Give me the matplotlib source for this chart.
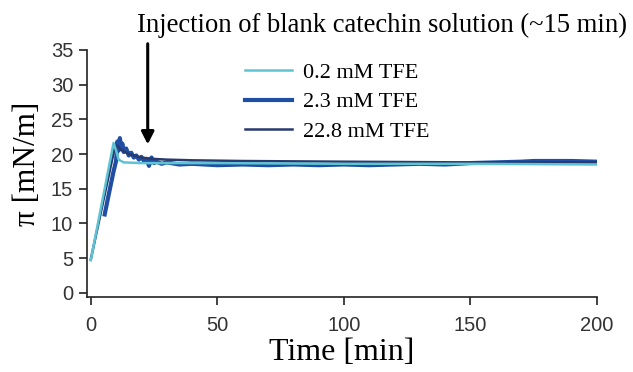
import matplotlib.pyplot as plt

# Data
t_02 = [0, 9, 10, 11, 13, 20, 50, 100, 150, 200]
pi_02 = [4.7, 21.6, 20.5, 19.2, 18.8, 18.7, 18.7, 18.6, 18.6, 18.5]

t_23 = [5.5, 7, 9, 10, 10.5, 11, 11.5, 12, 12.5, 13, 14, 15, 16, 17, 18, 19, 20, 21,
        22, 23, 24, 25, 26, 28, 30, 35, 40, 50, 60, 70, 80, 90, 100, 110, 120, 130,
        140, 150, 160, 170, 175, 180, 190, 200]
pi_23 = [11.3, 14, 17.5, 19, 21.8, 20.5, 22.3, 21, 21.5, 20.3, 20.8, 19.8, 20.2, 19.5,
         19.8, 19.2, 19.6, 19.0, 19.3, 18.3, 19.5, 18.7, 18.9, 18.6, 18.8, 18.5, 18.6,
         18.4, 18.5, 18.4, 18.5, 18.4, 18.5, 18.4, 18.5, 18.6, 18.5, 18.7, 18.8, 18.9,
         19.0, 19.0, 19.0, 18.9]

t_228 = [0, 9.5, 10.5, 12, 15, 20, 25, 30, 40, 60, 100, 150, 200]
pi_228 = [4.8, 21.0, 21.2, 20.6, 20.0, 19.5, 19.3, 19.2, 19.1, 19.0, 18.9, 18.8, 18.8]

serif = 'Liberation Serif'
sans = 'Liberation Sans'

fig = plt.figure(figsize=(6.33, 3.72), dpi=100)
ax = fig.add_axes([0.1374, 0.2016, 0.8056, 0.664])

l2, = ax.plot(t_23, pi_23, color='#1f4ea3', lw=3.0, label='2.3 mM TFE')
l3, = ax.plot(t_228, pi_228, color='#283a6e', lw=1.8, label='22.8 mM TFE')
l1, = ax.plot(t_02, pi_02, color='#5ec3d2', lw=1.8, label='0.2 mM TFE')

ax.set_xlim(-1.5, 200)
ax.set_ylim(-0.6, 35)
ax.set_xticks([0, 50, 100, 150, 200])
ax.set_yticks(range(0, 36, 5))
for s in ['top', 'right']:
    ax.spines[s].set_visible(False)
for s in ['left', 'bottom']:
    ax.spines[s].set_linewidth(1.2)
    ax.spines[s].set_color('#222222')
ax.tick_params(direction='out', length=6, width=1.2, color='#222222',
               labelsize=14.5, labelcolor='#333333')
ax.tick_params(axis='x', pad=8)
ax.tick_params(axis='y', pad=4)
for lab in ax.get_xticklabels() + ax.get_yticklabels():
    lab.set_fontfamily(sans)

ax.set_xlabel('Time [min]', fontfamily=serif, fontsize=23, labelpad=2)
ax.set_ylabel('π [mN/m]', fontfamily=serif, fontsize=22.5)
ax.yaxis.set_label_coords(-0.088, 0.54)

leg = ax.legend(handles=[l1, l2, l3], loc='upper left', bbox_to_anchor=(0.31, 0.95),
                frameon=False, prop={'family': serif, 'size': 16},
                handlelength=2.1, handletextpad=0.5, labelspacing=0.4,
                borderpad=0, borderaxespad=0)

ax.annotate('', xy=(22.5, 21.0), xytext=(22.5, 36.3),
            arrowprops=dict(arrowstyle='-|>,head_width=0.38,head_length=0.75',
                            color='black', lw=2.2), annotation_clip=False)
ax.text(18.3, 38.6, 'Injection of blank catechin solution (~15 min)',
        fontfamily=serif, fontsize=19.2, va='center', ha='left', clip_on=False)

plt.savefig('out.png', dpi=100)
